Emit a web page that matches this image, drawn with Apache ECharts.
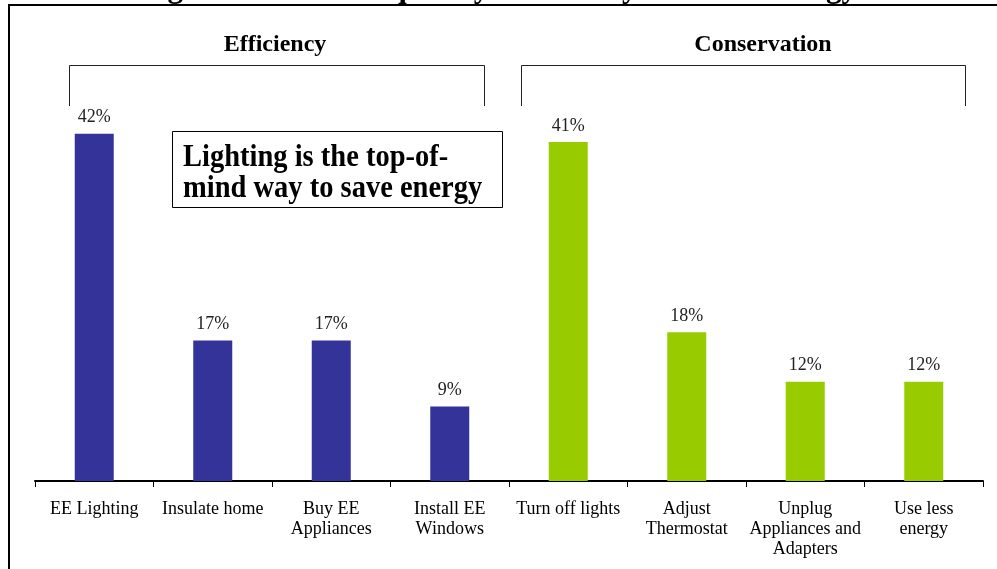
<!DOCTYPE html>
<html>
<head>
<meta charset="utf-8">
<script src="https://cdn.jsdelivr.net/npm/echarts@6/dist/echarts.min.js"></script>
<style>
html,body{margin:0;padding:0;background:#fff;}
#chart{width:997px;height:569px;}
</style>
</head>
<body>
<div id="chart"></div>
<script>
const categories = ['EE Lighting', 'Insulate home', 'Buy EE\nAppliances', 'Install EE\nWindows',
  'Turn off lights', 'Adjust\nThermostat', 'Unplug\nAppliances and\nAdapters', 'Use less\nenergy'];
const efficiencyValues = [42, 17, 17, 9, null, null, null, null];
const conservationValues = [null, null, null, null, 41, 18, 12, 12];
const groupLabels = ['Efficiency', 'Conservation'];
const titleText = 'Figure 4: Most Frequently Cited Ways to Save Energy';
const noteLines = ['Lighting is the top-of-', 'mind way to save energy'];

const serif = '"Liberation Serif", "Times New Roman", serif';
const chart = echarts.init(document.getElementById('chart'));

const labelStyle = {
  show: true, position: 'top', distance: 7,
  formatter: p => p.value + '%',
  fontFamily: serif, fontSize: 18, color: '#222'
};

chart.setOption({
  animation: false,
  grid: { left: 35, right: 14, top: 67.5, bottom: 88 },
  xAxis: {
    type: 'category',
    data: categories,
    axisLine: { lineStyle: { color: '#000', width: 2 } },
    axisTick: { show: true, length: 6, lineStyle: { color: '#000', width: 1 } },
    axisLabel: { interval: 0, margin: 18, fontFamily: serif, fontSize: 18, color: '#000', lineHeight: 20 }
  },
  yAxis: { type: 'value', min: 0, max: 50, show: false, splitLine: { show: false } },
  series: [
    { name: 'Efficiency', type: 'bar', data: efficiencyValues, barWidth: 39, barGap: '-100%',
      itemStyle: { color: '#333399' }, label: labelStyle },
    { name: 'Conservation', type: 'bar', data: conservationValues, barWidth: 39,
      itemStyle: { color: '#99CC00' }, label: labelStyle }
  ],
  graphic: [
    { type: 'rect', shape: { x: 9, y: 5, width: 1100, height: 700 }, style: { fill: 'none', stroke: '#000', lineWidth: 2 }, z: 10 },
    { type: 'text', x: 498.5, y: 4, style: { text: titleText, fontFamily: serif, fontWeight: 'bold', fontSize: 31, fill: '#000', align: 'center', verticalAlign: 'bottom' } },
    { type: 'text', x: 275, y: 45, style: { text: groupLabels[0], fontFamily: serif, fontWeight: 'bold', fontSize: 24, fill: '#000', align: 'center', verticalAlign: 'middle' } },
    { type: 'text', x: 763, y: 45, style: { text: groupLabels[1], fontFamily: serif, fontWeight: 'bold', fontSize: 24, fill: '#000', align: 'center', verticalAlign: 'middle' } },
    { type: 'polyline', shape: { points: [[69.5, 106], [69.5, 65.5], [484.5, 65.5], [484.5, 106]] }, style: { fill: 'none', stroke: '#222', lineWidth: 1 } },
    { type: 'polyline', shape: { points: [[521.5, 106], [521.5, 65.5], [965.5, 65.5], [965.5, 106]] }, style: { fill: 'none', stroke: '#222', lineWidth: 1 } },
    { type: 'rect', shape: { x: 172.5, y: 131.5, width: 330, height: 76 }, style: { fill: '#fff', stroke: '#000', lineWidth: 1 } },
    { type: 'text', x: 183, y: 158, scaleY: 1.1, style: { text: noteLines[0], fontFamily: serif, fontWeight: 'bold', fontSize: 28.5, fill: '#000', align: 'left', verticalAlign: 'middle' } },
    { type: 'text', x: 183, y: 189, scaleY: 1.1, style: { text: noteLines[1], fontFamily: serif, fontWeight: 'bold', fontSize: 28.5, fill: '#000', align: 'left', verticalAlign: 'middle' } }
  ]
});
</script>
</body>
</html>
